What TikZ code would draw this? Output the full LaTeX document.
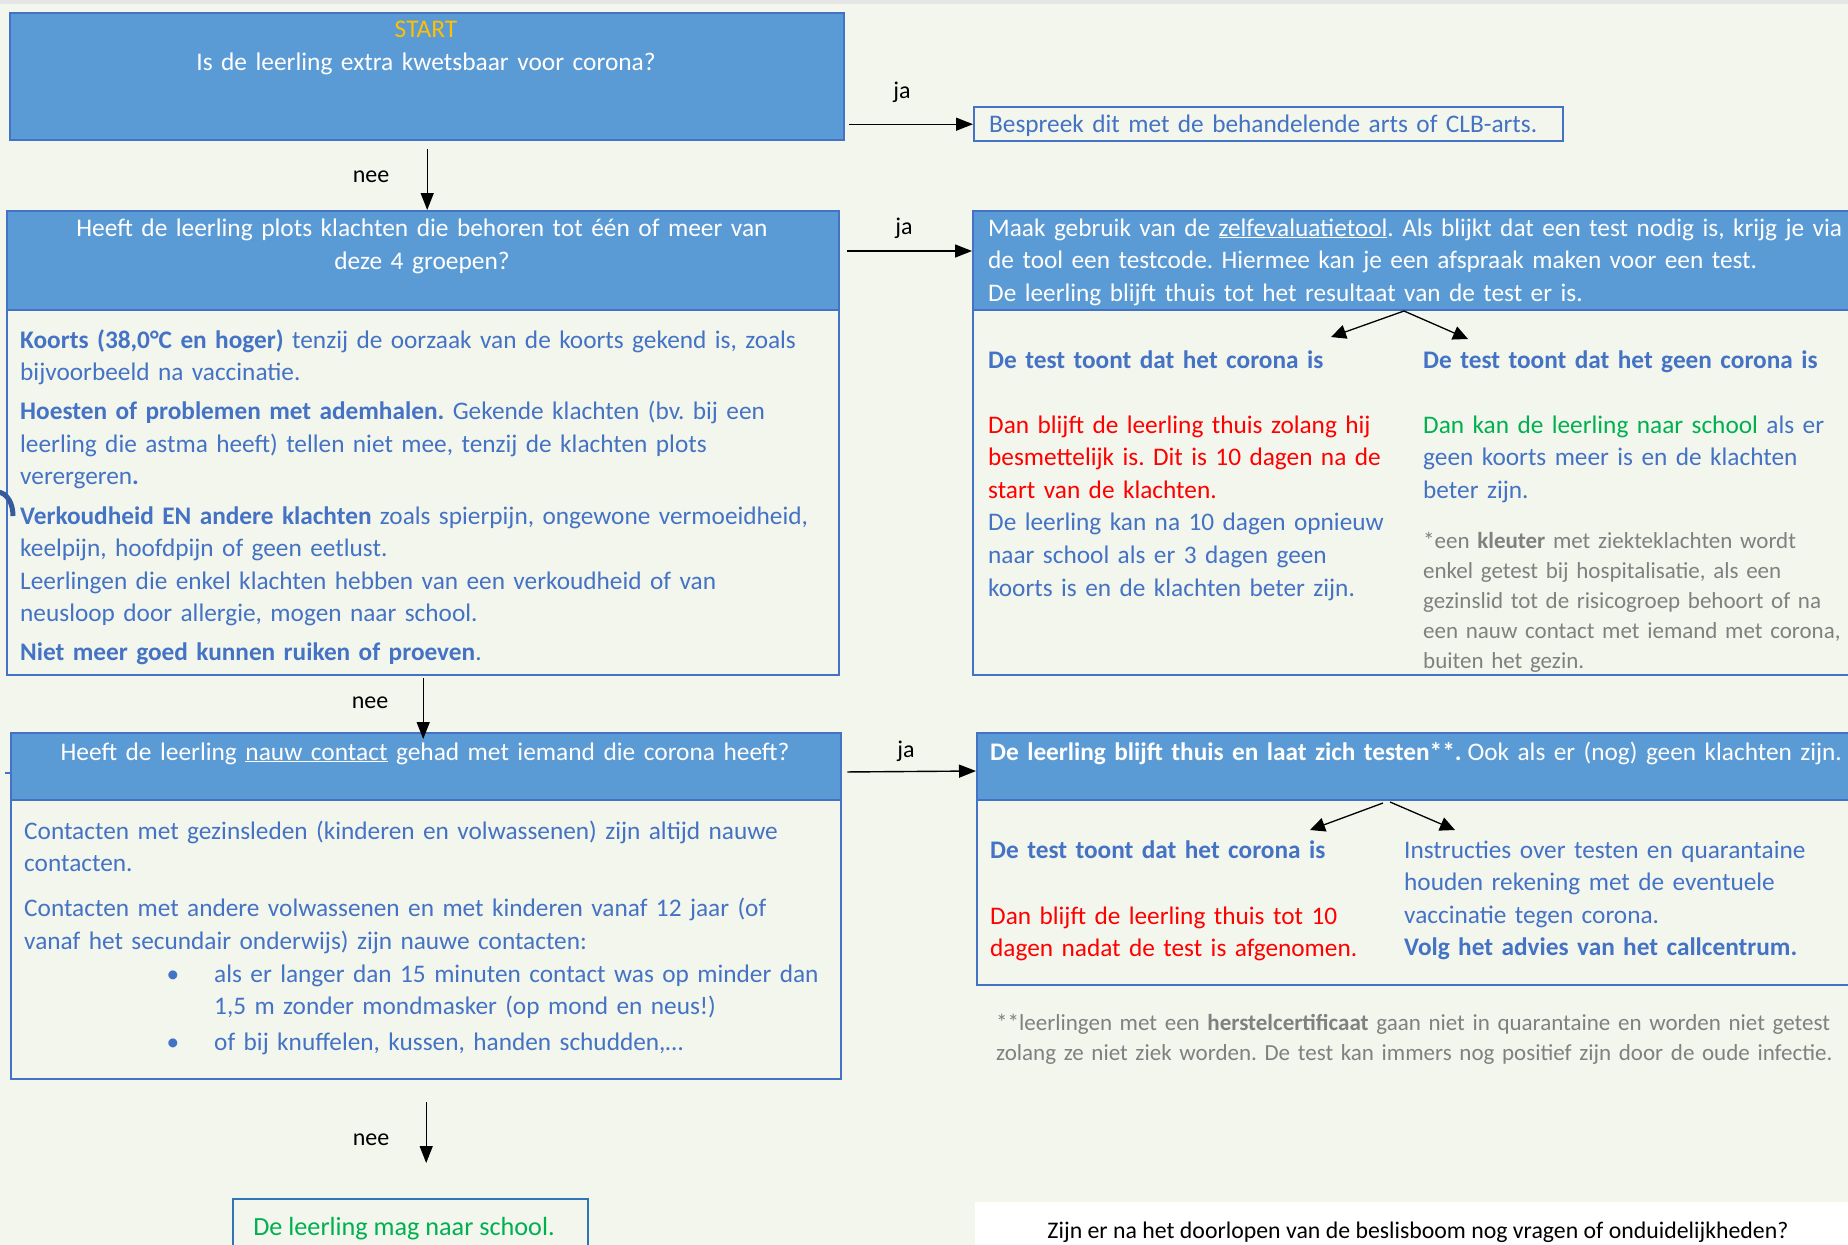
\documentclass[tikz,border=0pt]{standalone}
\usepackage{fontspec}
\setmainfont{Carlito}
\usetikzlibrary{arrows.meta}
\frenchspacing
\definecolor{bgc}{HTML}{F2F6EC}
\definecolor{hdrfill}{HTML}{5B9BD5}
\definecolor{bdr}{HTML}{4472C4}
\definecolor{tblue}{HTML}{4472C4}
\definecolor{tred}{HTML}{FF0000}
\definecolor{tgreen}{HTML}{00B050}
\definecolor{tgold}{HTML}{FFC000}
\definecolor{tgray}{HTML}{808080}
\definecolor{finbdr}{HTML}{2E75B6}
\newcommand\fsmain{\fontsize{25.3pt}{32.6pt}\selectfont\frenchspacing}
\newcommand\fshead{\fontsize{25.4pt}{33pt}\selectfont\frenchspacing}
\newcommand\fssmall{\fontsize{23pt}{30pt}\selectfont\frenchspacing}
\tikzset{
  hdr/.style={draw=bdr, fill=hdrfill, line width=2.4pt, anchor=north west, inner sep=0pt},
  bodybox/.style={draw=bdr, line width=2.4pt, anchor=north west, inner sep=0pt},
  txt/.style={anchor=base west, inner sep=0pt, align=left, font=\fsmain, text width=#1},
  txt/.default=860pt,
  small/.style={anchor=base west, inner sep=0pt, align=left, font=\fssmall, text width=#1},
  small/.default=860pt,
  headtxt/.style={anchor=base, inner sep=0pt, align=center, font=\fshead, text=white, text width=830pt},
  lbl/.style={inner sep=0pt, font=\fontsize{24pt}{30pt}\selectfont, text=black},
  arr/.style={draw=black, line width=1.4pt, -{Triangle[length=17pt,width=13pt]}},
  sarr/.style={draw=black, line width=1.3pt, -{Triangle[length=15pt,width=14pt]}},
}
\begin{document}
\begin{tikzpicture}[x=1pt,y=-1pt]
\useasboundingbox (0,0) rectangle (1848,1245);
\clip (0,0) rectangle (1848,1245);
\fill[bgc] (0,0) rectangle (1848,1245);
\fill[gray!20] (0,0) rectangle (1848,4);

% ---------- box 1 ----------
\node[hdr, minimum width=834pt, minimum height=127pt] (b1) at (9,12) {};
\node[headtxt, text=tgold] (start) at (426,37) {START};
\node[headtxt] (q1) at (426,70) {Is de leerling extra kwetsbaar voor corona?};

\node[draw=bdr, line width=2.4pt, anchor=north west, inner sep=0pt, minimum width=589pt, minimum height=34pt] (bes) at (973,106) {};
\node[txt, text=tblue] (bestxt) at (989,132) {Bespreek dit met de behandelende arts of CLB-arts.};

% ---------- box 2 ----------
\node[hdr, minimum width=832pt, minimum height=99pt] (b2h) at (6,210) {};
\node[bodybox, minimum width=832pt, minimum height=365pt] (b2b) at (6,309) {};
\node[headtxt] (q2) at (422,236)
  {Heeft de leerling plots klachten die behoren tot één of meer van\\deze 4 groepen?};
\node[txt, text=tblue] (t2) at (20,348) {%
\textbf{Koorts (38,0°C en hoger)} tenzij de oorzaak van de koorts gekend is, zoals\\
bijvoorbeeld na vaccinatie.\\[6.5pt]
\textbf{Hoesten of problemen met ademhalen.} Gekende klachten (bv. bij een\\
leerling die astma heeft) tellen niet mee, tenzij de klachten plots\\
verergeren\textbf{.}\\[6.5pt]
\textbf{Verkoudheid EN andere klachten} zoals spierpijn, ongewone vermoeidheid,\\
keelpijn, hoofdpijn of geen eetlust.\\
Leerlingen die enkel klachten hebben van een verkoudheid of van\\
neusloop door allergie, mogen naar school.\\[6.5pt]
\textbf{Niet meer goed kunnen ruiken of proeven}.};

% right box 2
\node[hdr, minimum width=900pt, minimum height=99pt] (r2h) at (972,210) {};
\node[bodybox, minimum width=900pt, minimum height=365pt] (r2b) at (972,309) {};
\node[txt=880pt, text=white] (r2t) at (988,236) {%
Maak gebruik van de \underline{zelfevaluatietool}. Als blijkt dat een test nodig is, krijg je via\\
de tool een testcode. Hiermee kan je een afspraak maken voor een test.\\
De leerling blijft thuis tot het resultaat van de test er is.};
\coordinate (apex2) at (1404,311);
\node[txt=420pt, text=tblue, font=\fsmain\bfseries] (pos2) at (988,368) {De test toont dat het corona is};
\node[txt=440pt, text=tblue, font=\fsmain\bfseries] (neg2) at (1423,368) {De test toont dat het geen corona is};
\coordinate (tipL2) at (1331,337);
\coordinate (tipR2) at (1468,339);
\draw[sarr] (apex2) -- (tipL2);
\draw[sarr] (apex2) -- (tipR2);
\node[txt=420pt, text=tred] (pos2t) at (988,433) {%
Dan blijft de leerling thuis zolang hij\\
besmettelijk is. Dit is 10 dagen na de\\
start van de klachten.\\
\textcolor{tblue}{De leerling kan na 10 dagen opnieuw}\\
\textcolor{tblue}{naar school als er 3 dagen geen}\\
\textcolor{tblue}{koorts is en de klachten beter zijn.}};
\node[txt=440pt, text=tblue] (neg2t) at (1423,433) {%
\textcolor{tgreen}{Dan kan de leerling naar school} als er\\
geen koorts meer is en de klachten\\
beter zijn.};
\node[small=440pt, text=tgray] (kleuter) at (1423,548) {%
*een \textbf{kleuter} met ziekteklachten wordt\\
enkel getest bij hospitalisatie, als een\\
gezinslid tot de risicogroep behoort of na\\
een nauw contact met iemand met corona,\\
buiten het gezin.};

% ---------- box 3 ----------
\node[hdr, minimum width=830pt, minimum height=67pt] (b3h) at (10,732) {};
\node[bodybox, minimum width=830pt, minimum height=279pt] (b3b) at (10,799) {};
\draw[bdr, line width=2.4pt] (b3h.west |- 0,773) -- ++(-5,0);
\node[headtxt] (q3) at (425,760)
  {Heeft de leerling \underline{nauw contact} gehad met iemand die corona heeft?};
\node[txt, text=tblue] (t3) at (24,839) {%
Contacten met gezinsleden (kinderen en volwassenen) zijn altijd nauwe\\
contacten.\\[12.5pt]
Contacten met andere volwassenen en met kinderen vanaf 12 jaar (of\\
vanaf het secundair onderwijs) zijn nauwe contacten:};
\node[anchor=base, inner sep=0pt, font=\fsmain, text=tblue] (bul1) at (173,982) {•};
\node[anchor=base, inner sep=0pt, font=\fsmain, text=tblue] (bul2) at (173,1050) {•};
\node[txt=640pt, text=tblue] (b3l1) at (214,982) {%
als er langer dan 15 minuten contact was op minder dan\\
1,5 m zonder mondmasker (op mond en neus!)};
\node[txt=640pt, text=tblue] (b3l2) at (214,1050) {of bij knuffelen, kussen, handen schudden,…};

% right box 3
\node[hdr, minimum width=900pt, minimum height=67pt] (r3h) at (976,732) {};
\node[bodybox, minimum width=900pt, minimum height=185pt] (r3b) at (976,799) {};
\node[txt=880pt, text=white] (r3t) at (990,760) {%
\textbf{De leerling blijft thuis en laat zich testen**.}\hspace{6pt}Ook als er (nog) geen klachten zijn.};
\coordinate (apexL3) at (1383,803);
\coordinate (apexR3) at (1390,802);
\coordinate (tipL3) at (1310,830);
\coordinate (tipR3) at (1455,830);
\draw[sarr] (apexL3) -- (tipL3);
\draw[sarr] (apexR3) -- (tipR3);
\node[txt=400pt, text=tblue, font=\fsmain\bfseries] (pos3) at (990,858) {De test toont dat het corona is};
\node[txt=400pt, text=tred] (pos3t) at (990,924) {%
Dan blijft de leerling thuis tot 10\\
dagen nadat de test is afgenomen.};
\node[txt=440pt, text=tblue] (instr) at (1404,858) {%
Instructies over testen en quarantaine\\
houden rekening met de eventuele\\
vaccinatie tegen corona.\\
\textbf{Volg het advies van het callcentrum.}};
\node[small=860pt, text=tgray] (herstel) at (996,1030) {%
**leerlingen met een \textbf{herstelcertificaat} gaan niet in quarantaine en worden niet getest\\
zolang ze niet ziek worden. De test kan immers nog positief zijn door de oude infectie.};

% left arc fragment
\draw[line width=5pt, draw=bdr!80!black, line cap=butt] (-2,492) .. controls (7,493) and (13,503) .. (13,516);

% ---------- final ----------
\node[draw=finbdr, line width=2.4pt, anchor=north west, inner sep=0pt, minimum width=355pt, minimum height=60pt] (fin) at (232,1198) {};
\node[anchor=base, inner sep=0pt, font=\fontsize{26.2pt}{32pt}\selectfont, text=tgreen] (fintxt) at (404,1235) {De leerling mag naar school.};
\node[fill=white, anchor=north west, inner sep=0pt, minimum width=880pt, minimum height=50pt] (qbox) at (975,1202) {};
\node[anchor=base, inner sep=0pt, font=\fontsize{23.8pt}{30pt}\selectfont, text=black] (qtxt) at (1418,1238) {Zijn er na het doorlopen van de beslisboom nog vragen of onduidelijkheden?};

% ---------- connectors ----------
\draw[arr, shorten <=4pt] (b1.east |- bes.west) -- (bes.west);
\node[lbl] (ja1) at (902,92) {ja};
\draw[arr, shorten <=8pt] (b1.south) -- (b1.south |- b2h.north);
\node[lbl] (nee1) at (371,177) {nee};
\draw[arr, shorten <=7pt] (b2h.east |- 0,251) -- (r2h.west |- 0,251);
\node[lbl] (ja2) at (904,228) {ja};
\draw[arr, shorten <=2pt, shorten >=-7pt] (b2b.south) -- (b2b.south |- b3h.north);
\node[lbl] (nee2) at (370,703) {nee};
\draw[arr, shorten <=5pt] (b3h.east |- 0,772) -- (r3h.west |- 0,771);
\node[lbl] (ja3) at (906,751) {ja};
\draw[arr, shorten <=22pt, shorten >=35pt] (b3b.south) -- (b3b.south |- fin.north);
\node[lbl] (nee3) at (371,1140) {nee};
\end{tikzpicture}
\end{document}
